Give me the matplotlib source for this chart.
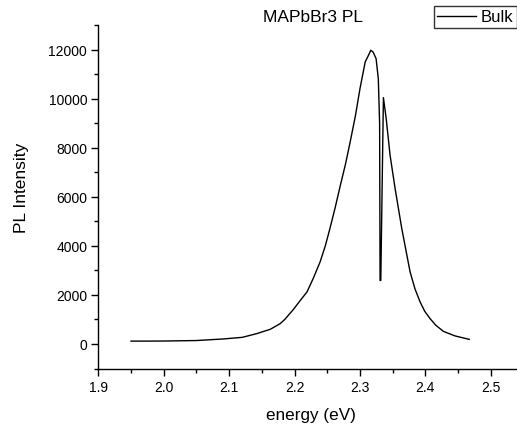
import matplotlib

matplotlib.use('agg')
import matplotlib.pyplot as plt
from matplotlib.ticker import MultipleLocator

# PL spectrum
energy = [1.950, 2.000, 2.050, 2.091, 2.120, 2.142, 2.163, 2.178, 2.185,
          2.198, 2.208, 2.219, 2.229, 2.239, 2.247, 2.254, 2.262, 2.270,
          2.278, 2.285, 2.293, 2.300, 2.308, 2.313, 2.3165, 2.320, 2.3246,
          2.328, 2.3300, 2.3307, 2.3318, 2.3358, 2.340, 2.346, 2.3537,
          2.3639, 2.3766, 2.384, 2.3919, 2.399, 2.4072, 2.416, 2.4275,
          2.445, 2.467]
intensity = [115, 120, 140, 204, 270, 420, 600, 828, 1000,
             1400, 1750, 2120, 2700, 3343, 4000, 4700, 5550, 6466,
             7350, 8235, 9300, 10408, 11497, 11766, 11970, 11900, 11630,
             10816, 9000, 2590, 2590, 10040, 9200, 7690, 6330,
             4700, 2935, 2250, 1712, 1330, 1031, 760, 514,
             330, 188]

plt.rcParams['font.family'] = ['Liberation Sans', 'DejaVu Sans']

fig = plt.figure(figsize=(5.17, 4.27), dpi=100)
ax = fig.add_axes([98.3 / 517, 1 - 370 / 427, 1 - 98.3 / 517, (370 - 26) / 427])

ax.plot(energy, intensity, color='black', lw=1.0, label='Bulk')

ax.set_xlim(1.9, 2.54)
ax.set_ylim(-1020, 13000)
ax.xaxis.set_major_locator(MultipleLocator(0.1))
ax.xaxis.set_minor_locator(MultipleLocator(0.05))
ax.yaxis.set_major_locator(MultipleLocator(2000))
ax.yaxis.set_minor_locator(MultipleLocator(1000))
ax.spines['top'].set_visible(False)
ax.spines['right'].set_visible(False)
for s in ('left', 'bottom'):
  ax.spines[s].set_linewidth(1.0)
ax.tick_params(which='major', direction='out', length=5, width=1.0,
               labelsize=10, pad=3)
ax.tick_params(which='minor', direction='out', length=3, width=1.0)
ax.xaxis.set_major_formatter(plt.FuncFormatter(lambda v, p: f'{v:.1f}'))

fig.text(313 / 517, 1 - 18 / 427, 'MAPbBr3 PL', ha='center', va='center',
         fontsize=12.5)
fig.text(311 / 517, 1 - 416 / 427, 'energy (eV)', ha='center',
         va='center', fontsize=12.3)
fig.text(21.5 / 517, 1 - 187.5 / 427, 'PL Intensity', ha='center',
         va='center', rotation=90, fontsize=12.5)

leg = ax.legend(loc='upper left', bbox_to_anchor=(434 / 517, 1 - 7 / 427),
                bbox_transform=fig.transFigure, frameon=True, fancybox=False,
                fontsize=12, handlelength=2.3, handletextpad=0.3,
                borderpad=0.2, borderaxespad=0)
leg.get_frame().set_edgecolor('black')
leg.get_frame().set_linewidth(1.0)

plt.savefig('out.png', dpi=100)
